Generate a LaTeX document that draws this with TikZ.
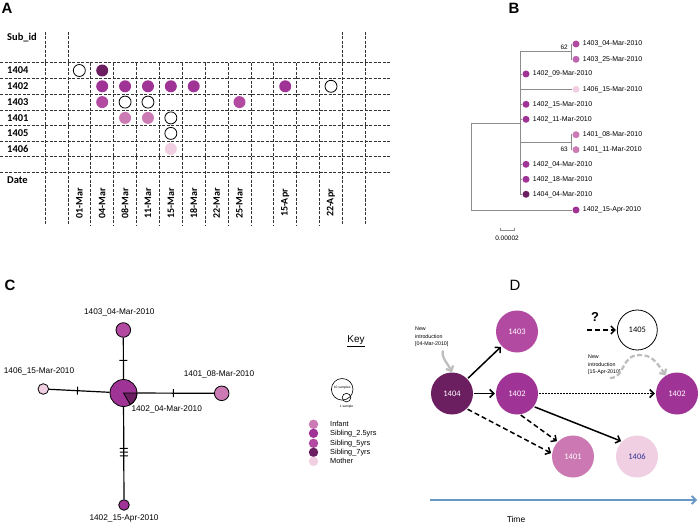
\documentclass[tikz,border=0pt]{standalone}
\usepackage{fontspec}
\setmainfont{Liberation Sans}
\newfontfamily\calfont{Carlito}
\usetikzlibrary{arrows.meta,positioning,calc}

\definecolor{sibseven}{RGB}{107,31,96}
\definecolor{sibtwo}{RGB}{160,52,150}
\definecolor{sibfive}{RGB}{178,74,162}
\definecolor{infant}{RGB}{204,122,180}
\definecolor{mother}{RGB}{241,207,227}
\definecolor{timeblue}{RGB}{104,152,198}
\definecolor{introgray}{RGB}{190,190,190}

\begin{document}
\begin{tikzpicture}[
    x=1bp, y=-1bp,
    >={Straight Barb[length=4bp,width=8bp]},
    panel/.style={inner sep=0pt, font=\bfseries\fontsize{15}{17}\selectfont},
    grid/.style={dash pattern=on 3bp off 1.5bp, line width=0.7bp, black!80},
    rowlbl/.style={anchor=west, inner sep=0pt, font=\calfont\bfseries\fontsize{10.5}{12}\selectfont},
    datelbl/.style={rotate=90, inner sep=0pt, font=\calfont\bfseries\fontsize{10}{12}\selectfont},
    dotA/.style={circle, inner sep=0pt, minimum size=12bp, line width=0.8bp},
    tree/.style={line width=0.7bp, black!45},
    leaf/.style={circle, inner sep=0pt, minimum size=7bp},
    leaflbl/.style={anchor=west, inner sep=0pt, font=\fontsize{7}{8}\selectfont},
    cnode/.style={circle, draw=black, line width=0.8bp, inner sep=0pt},
    clbl/.style={inner sep=0pt, font=\fontsize{8.3}{10}\selectfont},
    cedge/.style={line width=1.2bp},
    mut/.style={sloped, draw, inner sep=0pt, minimum width=0pt, minimum height=8bp, line width=1bp},
    keydot/.style={circle, inner sep=0pt, minimum size=9.4bp},
    keylbl/.style={anchor=west, inner sep=0pt, font=\fontsize{7.4}{9}\selectfont},
    dnode/.style={circle, inner sep=0pt, minimum size=42bp, text=white, font=\calfont\fontsize{8.5}{10}\selectfont},
    darr/.style={->, line width=1.5bp, shorten >=1bp, shorten <=1bp},
    intro/.style={-{Straight Barb[length=4bp,width=8bp]}, line width=2.3bp, introgray},
    introlbl/.style={anchor=west, align=left, inner sep=0pt, font=\fontsize{5.3}{7.6}\selectfont}
  ]
    \useasboundingbox (0,0) rectangle (698,523);

    % ---------- A: sampling grid ----------
    \node[panel] (pA) at (7,8) {A};
    \foreach \i in {0,1,13,14}
      \draw[grid] (45+22.88*\i,32) -- (45+22.88*\i,225);
    \foreach \i in {2,...,12}
      \draw[grid] (45+22.88*\i,62.7) -- (45+22.88*\i,225);
    \foreach \y in {62.7,78.3,94.3,110,125.7,141,156.7,172.7}
      \draw[grid] (0,\y) -- (390,\y);

    \node[rowlbl] (rsub) at (7,38) {Sub\_id};
    \node[rowlbl] (r1404) at (7,70.5) {1404};
    \node[rowlbl] (r1402) at (7,86.3) {1402};
    \node[rowlbl] (r1403) at (7,102.1) {1403};
    \node[rowlbl] (r1401) at (7,117.9) {1401};
    \node[rowlbl] (r1405) at (7,133.4) {1405};
    \node[rowlbl] (r1406) at (7,148.9) {1406};
    \node[rowlbl] (rdate) at (7,180) {Date};

    \foreach \n/\j/\t in {dt01/1/01-Mar, dt04/2/04-Mar, dt08/3/08-Mar, dt11/4/11-Mar,
                          dt15/5/15-Mar, dt18/6/18-Mar, dt22/7/22-Mar, dt25/8/25-Mar,
                          dtA15/10/15-Apr, dtA22/12/22-Apr}
      \node[datelbl] (\n) at (45+22.88*\j+11.44,203) {\t};

    \foreach \c/\r/\f/\b in {dt01/1404/white/black, dt04/1404/sibseven/none,
        dt04/1402/sibtwo/none, dt08/1402/sibtwo/none, dt11/1402/sibtwo/none,
        dt15/1402/sibtwo/none, dt18/1402/sibtwo/none, dtA15/1402/sibtwo/none,
        dtA22/1402/white/black,
        dt04/1403/sibfive/none, dt08/1403/white/black, dt11/1403/white/black,
        dt25/1403/sibfive/none,
        dt08/1401/infant/none, dt11/1401/infant/none, dt15/1401/white/black,
        dt15/1405/white/black, dt15/1406/mother/none}
      \node[dotA, fill=\f, draw=\b] (\c-\r) at (\c |- r\r) {};

    % ---------- B: tree ----------
    \node[panel] (pB) at (514,8) {B};
    \node[leaf, fill=sibfive] (b1) at (576,44) {};
    \node[leaf, fill=sibfive!85] (b2) at (576,59.3) {};
    \node[leaf, fill=sibtwo] (b3) at (526,74) {};
    \node[leaf, fill=mother] (b4) at (576,89.3) {};
    \node[leaf, fill=sibtwo] (b5) at (526,104.3) {};
    \node[leaf, fill=sibtwo] (b6) at (526,119.3) {};
    \node[leaf, fill=infant] (b7) at (576,134.7) {};
    \node[leaf, fill=infant] (b8) at (576,149.7) {};
    \node[leaf, fill=sibtwo] (b9) at (526,164.3) {};
    \node[leaf, fill=sibtwo] (b10) at (526,179.3) {};
    \node[leaf, fill=sibseven] (b11) at (526,194.3) {};
    \node[leaf, fill=sibtwo] (b12) at (576,210) {};
    \foreach \n/\t in {b1/1403\_04-Mar-2010, b2/1403\_25-Mar-2010, b3/1402\_09-Mar-2010,
                       b4/1406\_15-Mar-2010, b5/1402\_15-Mar-2010, b6/1402\_11-Mar-2010,
                       b7/1401\_08-Mar-2010, b8/1401\_11-Mar-2010, b9/1402\_04-Mar-2010,
                       b10/1402\_18-Mar-2010, b11/1404\_04-Mar-2010, b12/1402\_15-Apr-2010}
      \node[leaflbl] (\n-t) at ([xshift=3bp]\n.east) {\t};

    \coordinate (broot) at (471,166);
    \coordinate (bin) at (520,123);
    \coordinate (bca) at (571,51.7);
    \coordinate (bcb) at (571,142.7);
    \draw[tree] (broot) |- (bin);
    \draw[tree] (broot) |- (b12.west);
    \foreach \n in {b3,b4,b5,b6,b9,b10,b11}
      \draw[tree] (bin) |- (\n.west);
    \draw[tree] (bin) |- (bca);
    \draw[tree] (bin) |- (bcb);
    \draw[tree] (bca) |- (b1.west);
    \draw[tree] (bca) |- (b2.west);
    \draw[tree] (bcb) |- (b7.west);
    \draw[tree] (bcb) |- (b8.west);
    \node[anchor=east, inner sep=0pt, font=\fontsize{6.5}{8}\selectfont] (bs62) at (568,47) {62};
    \node[anchor=east, inner sep=0pt, font=\fontsize{6.5}{8}\selectfont] (bs63) at (568,149.5) {63};

    \coordinate (sb0) at (500,230);
    \coordinate (sb1) at (514.3,230);
    \draw[tree, {Bar[width=3bp]}-{Bar[width=3bp]}] (sb0) -- (sb1);
    \node[inner sep=0pt, font=\fontsize{6.5}{8}\selectfont] (sbl) at (507,238.5) {0.00002};

    % ---------- C: haplotype network ----------
    \node[panel] (pC) at (10,285) {C};
    \node[cnode, fill=sibtwo, minimum size=27bp] (c0) at (123.5,393) {};
    \filldraw[fill=sibseven, line width=0.8bp] (c0.center) -- ++(13.5,0)
      arc[start angle=0, end angle=60, radius=13.5] -- cycle;
    \node[cnode, fill=sibfive, minimum size=14.6bp] (c1403) at (123.3,330) {};
    \node[cnode, fill=mother, minimum size=10.6bp] (c1406) at (43.3,389) {};
    \node[cnode, fill=infant, minimum size=14.6bp] (c1401) at (221.7,393.3) {};
    \node[cnode, fill=sibtwo, minimum size=10.6bp] (c1402b) at (124,505) {};

    \draw[cedge] (c0) -- node[mut, pos=0.45] (m1) {} (c1403);
    \draw[cedge] (c0) -- node[mut, pos=0.53] (m2) {} (c1406);
    \draw[cedge] (c0) -- node[mut, pos=0.47] (m3) {} (c1401);
    \draw[cedge] (c0) -- node[mut, pos=0.45] (m4) {} node[mut, pos=0.49] (m5) {}
      node[mut, pos=0.53] (m6) {} (c1402b);

    \node[clbl] (lc1403) at (119.3,312.3) {1403\_04-Mar-2010};
    \node[clbl] (lc1406) at (39,371.7) {1406\_15-Mar-2010};
    \node[clbl] (lc1401) at (219,374.3) {1401\_08-Mar-2010};
    \node[clbl] (lc1402b) at (124,518.3) {1402\_15-Apr-2010};
    \node[clbl] (lc0) at (166.7,409) {1402\_04-Mar-2010};

    % ---------- key ----------
    \node[inner sep=0pt, font=\fontsize{10}{12}\selectfont] (key) at (356,341) {\underline{Key}};
    \node[circle, draw, line width=0.6bp, inner sep=0pt, minimum size=21.6bp] (ks10) at (342.2,389.3) {};
    \node[circle, draw, line width=0.6bp, inner sep=0pt, minimum size=8.6bp] (ks1) at (346.5,397.6) {};
    \node[inner sep=0pt, font=\fontsize{3.3}{4}\selectfont] (ks10t) at (342.2,387.5) {10 samples};
    \node[inner sep=0pt, font=\fontsize{3.3}{4}\selectfont] (ks1t) at (346.5,406.3) {1 sample};
    \foreach \n/\y/\c/\t in {k1/424.3/infant/Infant, k2/433.3/sibtwo/Sibling\_2.5yrs,
                             k3/443.3/sibfive/Sibling\_5yrs, k4/452.3/sibseven/Sibling\_7yrs,
                             k5/461.3/mother/Mother}
      {
      \node[keydot, fill=\c] (\n) at (313.5,\y) {};
      \node[keylbl] (\n-t) at (330,\y) {\t};
      }

    % ---------- D: transmission ----------
    \node[inner sep=0pt, font=\fontsize{15}{17}\selectfont] (pD) at (515,285) {D};
    \node[dnode, fill=sibseven] (d1404) at (452,393.5) {1404};
    \node[dnode, fill=sibfive] (d1403) at (517,331.5) {1403};
    \node[dnode, fill=sibtwo] (d1402) at (517,393.5) {1402};
    \node[dnode, draw=black, line width=0.8bp, text=black, minimum size=40bp] (d1405) at (637.3,330) {1405};
    \node[dnode, fill=sibtwo] (d1402r) at (677,393.5) {1402};
    \node[dnode, fill=infant!95!sibfive] (d1401) at (573,456.5) {1401};
    \node[dnode, fill=mother, text={rgb,255:red,46;green,49;blue,146}] (d1406) at (637,456.5) {1406};

    \draw[darr] (d1404) -- (d1403);
    \draw[darr] (d1404) -- (d1402);
    \draw[darr, dash pattern=on 1.6bp off 1.4bp] (d1402) -- (d1402r);
    \draw[darr] (d1402.-38) -- (d1406.135);
    \draw[darr, dash pattern=on 5bp off 3bp] (d1402.-82) -- (d1401.136);
    \draw[darr, dash pattern=on 5bp off 3bp] (d1404.-46) -- (d1401.172);

    \node[inner sep=0pt, font=\bfseries\fontsize{13}{15}\selectfont] (dq) at (595,317) {?};
    \coordinate (dq0) at (586,330);
    \draw[darr, dash pattern=on 5bp off 3bp] (dq0) -- (dq0 -| d1405.west);

    \node[introlbl] (di1) at (415,337) {New\\introduction\\{}[04-Mar-2010]};
    \coordinate (di1a) at (443,350.5);
    \draw[intro] (di1a) .. controls (441,358) and (447,362) .. (d1404.north);
    \node[introlbl] (di2) at (588,365) {New\\introduction\\{}[15-Apr-2010]};
    \coordinate (di2a) at (610,378);
    \coordinate (di2b) at (640,355);
    \draw[intro, dash pattern=on 5bp off 2.5bp] (di2a) .. controls (626,378) and (620,355) .. (di2b)
      .. controls (651,355) and (656,361) .. (d1402r.122);

    \coordinate (t0) at (430,500);
    \coordinate (t1) at (697,500);
    \draw[-{Straight Barb[length=4bp,width=8bp]}, line width=1.8bp, timeblue] (t0) -- (t1);
    \node[inner sep=0pt, font=\fontsize{8.5}{10}\selectfont] (dtime) at (516,519) {Time};
  \end{tikzpicture}
\end{document}
